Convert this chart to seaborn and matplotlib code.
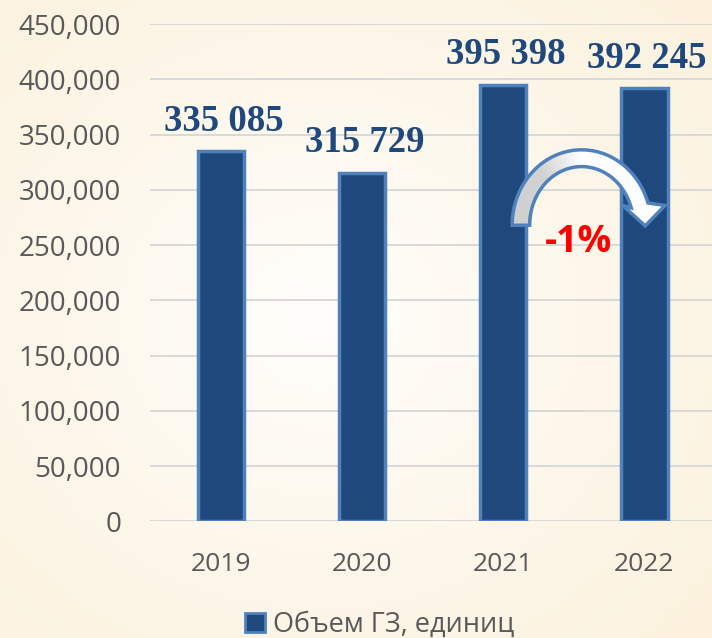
import numpy as np
import matplotlib
matplotlib.use("Agg")
import matplotlib.pyplot as plt
import seaborn as sns
from matplotlib.patches import Patch, Polygon

years = ["2019", "2020", "2021", "2022"]
volumes = [335085, 315729, 395398, 392245]
legend_label = "Объем ГЗ, единиц"
change_label = "-1%"

navy = "#1F497D"
edge_blue = "#4F81BD"
text_gray = "#595959"

sns.set_theme(style="white")
plt.rcParams["font.family"] = ["Open Sans", "DejaVu Sans"]

fig = plt.figure(figsize=(7.12, 6.38), dpi=100)

# cream radial background
bg = fig.add_axes([0, 0, 1, 1], zorder=-10)
yy, xx = np.mgrid[0:1:200j, 0:1:200j]
r = np.clip(np.sqrt(((xx - 0.45) / 0.8) ** 2 + ((yy - 0.5) / 0.8) ** 2), 0, 1)
c_in = np.array([255, 254, 251]) / 255
c_out = np.array([251, 240, 218]) / 255
img = c_in[None, None, :] * (1 - r[..., None]) + c_out[None, None, :] * r[..., None]
bg.imshow(img, aspect="auto", extent=[0, 1, 0, 1])
bg.axis("off")

ax = fig.add_axes([0.211, 0.183, 0.793, 0.779])
ax.patch.set_alpha(0)

sns.barplot(x=years, y=volumes, ax=ax, color=navy, saturation=1, width=0.33,
            edgecolor=edge_blue, linewidth=2.5, zorder=3)

ax.set_ylim(0, 450000)
ax.set_xlim(-0.5, 3.5)
ax.set_yticks(np.arange(0, 450001, 50000))
ax.yaxis.set_major_formatter(matplotlib.ticker.FuncFormatter(lambda v, p: f"{v:,.0f}"))
ax.grid(axis="y", color="#d9d9d9", lw=1.4, zorder=0)
ax.set_axisbelow(True)
for s in ax.spines.values():
    s.set_visible(False)
ax.set_xlabel("")
ax.set_ylabel("")
ax.tick_params(axis="y", labelsize=20, colors=text_gray, pad=21, length=0)
ax.tick_params(axis="x", labelsize=19, colors=text_gray, pad=22, length=0)

# value labels
for i, v in enumerate(volumes):
    ax.annotate(f"{v:,}".replace(",", " "), (i, v), xytext=(2, 9),
                textcoords="offset points", ha="center", va="bottom",
                fontsize=26.5, fontweight="bold", color=navy,
                family=["Liberation Serif"], annotation_clip=False, zorder=5)

# curved arrow 2021 -> 2022
cx, cy = 2.556, 268000
rx, ry = 0.43, 60700
hx, hy = 0.062, 7600
a_end = 0.30
ang = np.linspace(np.pi, a_end, 120)
outer = np.c_[cx + (rx + hx) * np.cos(ang), cy + (ry + hy) * np.sin(ang)]
inner = np.c_[cx + (rx - hx) * np.cos(ang), cy + (ry - hy) * np.sin(ang)]
for k in range(len(ang) - 1):
    t = (ang[k] - np.pi / 2) / (np.pi / 2)
    g = 0.82 + 0.18 * (1 - np.clip(t * 2.2, 0, 1))
    quad = np.vstack([outer[k], outer[k + 1], inner[k + 1], inner[k]])
    ax.add_patch(Polygon(quad, closed=True, facecolor=(g, g, g), edgecolor=(g, g, g),
                         lw=0.6, zorder=6))
xe, ye = cx + rx * np.cos(a_end), cy + ry * np.sin(a_end)
hc = xe + 0.03
head = np.array([[hc + 0.15, ye], [hc + 0.01, ye - 18500], [hc - 0.15, ye]])
ax.add_patch(Polygon(np.vstack([head, [outer[-1]], [inner[-1]]])[[0, 1, 2, 4, 3]],
                     closed=True, facecolor="white", edgecolor="none", zorder=6))
outline = np.vstack([outer, head, inner[::-1]])
ax.add_patch(Polygon(outline, closed=True, facecolor="none", edgecolor=edge_blue,
                     lw=2.5, joinstyle="miter", zorder=7))
ax.text(cx - 0.02, 253000, change_label, ha="center", va="center", fontsize=27,
        fontweight="bold", color="#FF0000", zorder=8)

handle = Patch(facecolor=navy, edgecolor=edge_blue, linewidth=2)
fig.legend([handle], [legend_label], loc="center", bbox_to_anchor=(0.533, 0.02),
           frameon=False, fontsize=19.5, labelcolor=text_gray, handlelength=0.72,
           handleheight=0.72, handletextpad=0.3)

fig.savefig("out.png", dpi=100)
